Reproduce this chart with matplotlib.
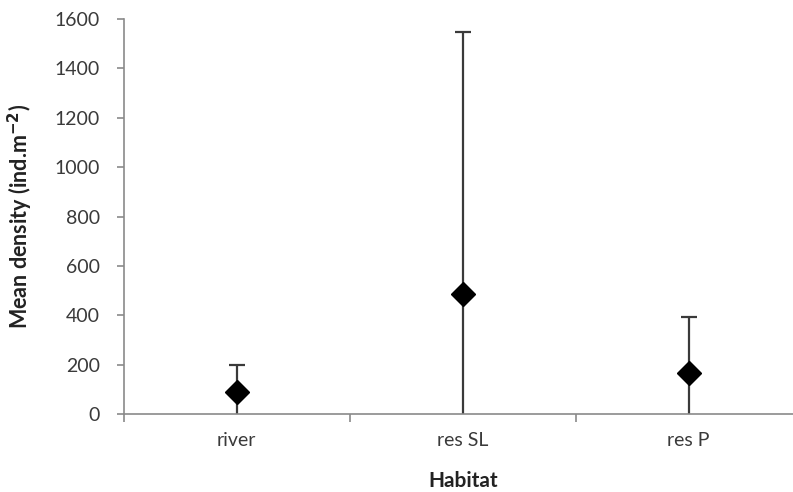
import matplotlib
matplotlib.use('Agg')
import matplotlib.pyplot as plt
import numpy as np

# mean density per habitat and its upper error (SD)
habitats = ["river", "res SL", "res P"]
mean_density = [90, 486, 166]
sd_density = [110, 1060, 228]

plt.rcParams['font.family'] = ['Lato', 'DejaVu Sans']
plt.rcParams['axes.unicode_minus'] = False

fig = plt.figure(figsize=(7.93, 4.92), dpi=100)
ax = fig.add_axes([0.156, 0.1585, 0.855, 0.8028])

x = np.arange(len(habitats))
# symmetric bars; the lower part is clipped at zero by the axis
ax.errorbar(x, mean_density, yerr=sd_density, fmt='none', ecolor='#3a3a3a',
            elinewidth=1.6, capsize=6, capthick=1.6, zorder=2)
ax.plot(x, mean_density, 'D', color='black', markersize=12, zorder=3,
        markeredgecolor='black')

ax.set_xlim(-0.5, 2.5)
ax.set_ylim(0, 1600)
ax.set_yticks(np.arange(0, 1601, 200))
ax.set_xticks(x)
ax.set_xticklabels(habitats)
ax.set_xticks([-0.5, 0.5, 1.5], minor=True)

for s in ['top', 'right']:
    ax.spines[s].set_visible(False)
for s in ['left', 'bottom']:
    ax.spines[s].set_color('#8a8a8a')
    ax.spines[s].set_linewidth(1.2)

ax.tick_params(axis='y', colors='#8a8a8a', labelcolor='#3a3a3a', length=5,
               width=1.2, labelsize=14, pad=12)
ax.tick_params(axis='x', which='major', length=0, labelcolor='#3a3a3a',
               labelsize=14, pad=13)
ax.tick_params(axis='x', which='minor', colors='#8a8a8a', length=6, width=1.2)

ax.set_xlabel("Habitat", fontsize=15, fontweight='bold', color='#222222', labelpad=16)
ax.set_ylabel("Mean density (ind.m$^{\\mathbf{-2}}$)", fontsize=15.5, fontweight='bold',
              color='#222222', labelpad=14)

fig.savefig('out.png', dpi=100)
